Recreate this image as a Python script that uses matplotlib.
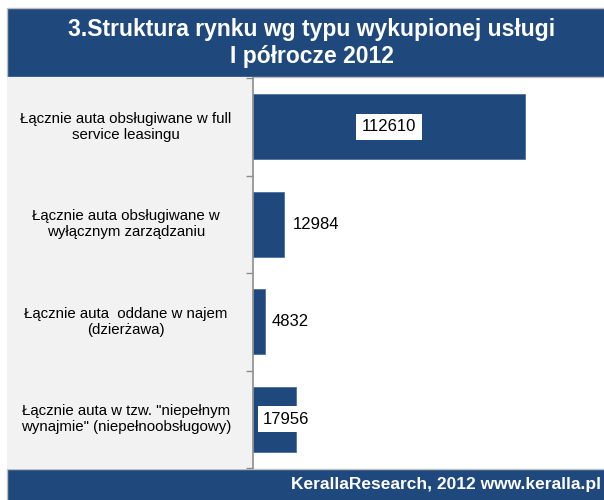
import matplotlib
matplotlib.use("Agg")
import matplotlib.pyplot as plt
from matplotlib.patches import Rectangle
from matplotlib.transforms import blended_transform_factory

plt.rcParams['font.family'] = ['Liberation Sans', 'DejaVu Sans']

title = "3.Struktura rynku wg typu wykupionej usługi\nI półrocze 2012"
footer = "KerallaResearch, 2012 www.keralla.pl"
categories = [
    "Łącznie auta obsługiwane w full\nservice leasingu",
    "Łącznie auta obsługiwane w\nwyłącznym zarządzaniu",
    "Łącznie auta  oddane w najem\n(dzierżawa)",
    "Łącznie auta w tzw. \"niepełnym\nwynajmie\" (niepełnoobsługowy)",
]
values = [112610, 12984, 4832, 17956]

BLUE = "#1F497D"
GRAY = "#F2F2F2"

W, H = 604, 500
fig = plt.figure(figsize=(W / 100, H / 100), dpi=100)
fig.patch.set_facecolor("white")

def fx(px):
    return px / W

def fy(py):
    return 1 - py / H

# title band
fig.patches.append(Rectangle((fx(7), fy(77)), fx(604 - 7) + 0.01, (77 - 8) / H,
                             transform=fig.transFigure, facecolor=BLUE,
                             edgecolor="#BFBFBF", linewidth=1, zorder=-2))
# grey label panel
fig.patches.append(Rectangle((fx(7), fy(468)), fx(253 - 7), (468 - 77) / H,
                             transform=fig.transFigure, facecolor=GRAY,
                             edgecolor="none", zorder=-2))
# footer band
fig.patches.append(Rectangle((fx(7), fy(500) - 0.01), fx(604 - 7) + 0.01, (500 - 469) / H + 0.01,
                             transform=fig.transFigure, facecolor=BLUE,
                             edgecolor="#BFBFBF", linewidth=1, zorder=-2))

fig.text(fx(312), fy(43), title, ha="center", va="center", color="white",
         fontsize=16.5, fontweight="bold", linespacing=1.2)
fig.text(fx(601), fy(484), footer, ha="right", va="center", color="white",
         fontsize=12.5, fontweight="bold")

ax = fig.add_axes([fx(253), fy(468), fx(604 - 253), (468 - 78) / H])
ax.set_facecolor("none")
ypos = list(range(len(categories)))
ax.barh(ypos, values, height=0.67, color=BLUE, edgecolor="#4F6FA0", linewidth=0.6)
ax.set_xlim(0, 145300)
ax.set_ylim(3.5, -0.5)

for s in ["top", "right", "bottom"]:
    ax.spines[s].set_visible(False)
ax.spines["left"].set_color("#8C8C8C")
ax.spines["left"].set_linewidth(1.2)
ax.set_xticks([])
ax.set_yticks([-0.5, 0.5, 1.5, 2.5, 3.5])
ax.set_yticklabels([])
ax.tick_params(axis="y", direction="out", length=5, color="#8C8C8C", width=1)

trans = blended_transform_factory(ax.transAxes, ax.transData)
for i, lab in enumerate(categories):
    ax.text((126 - 253) / (604 - 253), i, lab, transform=trans, ha="center",
            va="center", fontsize=10.8, linespacing=1.2, color="black")

box = dict(facecolor="white", edgecolor="none", pad=4)
# largest value centred inside bar
ax.text(values[0] / 2, 0, str(values[0]), ha="center", va="center", fontsize=12,
        bbox=box)
ax.annotate(str(values[1]), xy=(values[1], 1), xytext=(8, 0),
            textcoords="offset pixels", ha="left", va="center", fontsize=12)
ax.annotate(str(values[2]), xy=(values[2], 2), xytext=(7, 0),
            textcoords="offset pixels", ha="left", va="center", fontsize=12)
ax.annotate(str(values[3]), xy=(0, 3), xytext=(10, 0),
            textcoords="offset pixels", ha="left", va="center", fontsize=12,
            bbox=box)

fig.savefig("out.png", dpi=100)
